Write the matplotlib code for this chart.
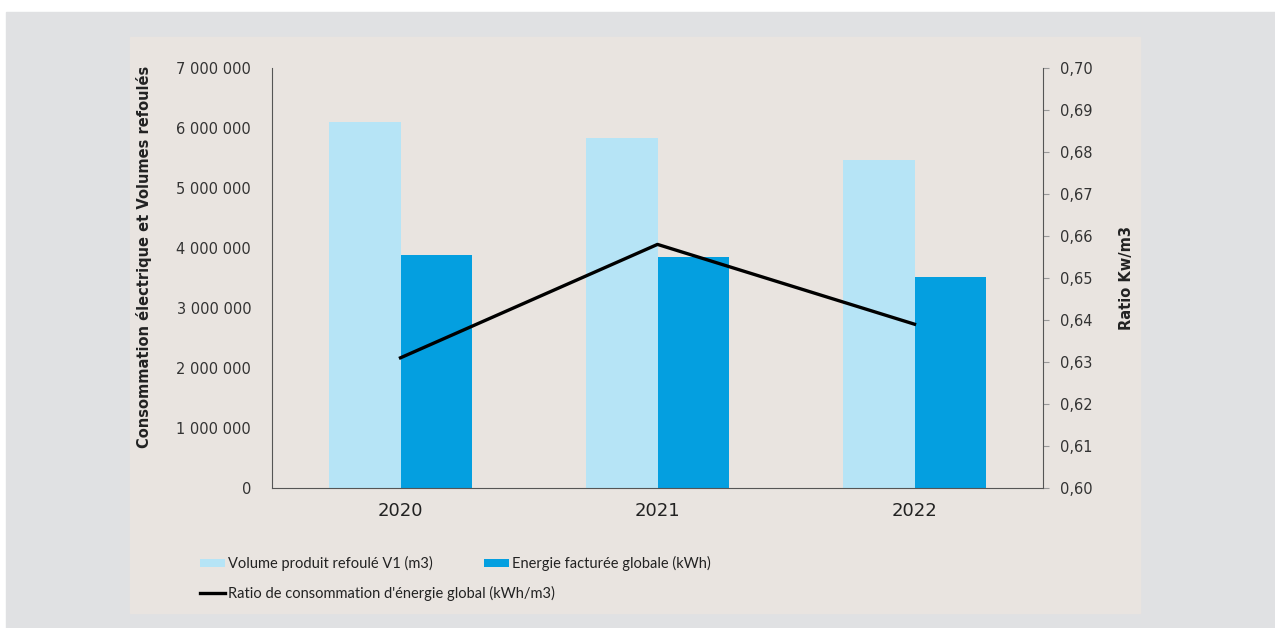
import matplotlib.pyplot as plt
from matplotlib.patches import Rectangle
from matplotlib.ticker import FuncFormatter
import numpy as np

plt.rcParams["font.family"] = ["DejaVu Sans"]

# Données par année
years = ["2020", "2021", "2022"]
volume_refoule = [6100000, 5830000, 5470000]      # m3
energie_facturee = [3880000, 3850000, 3520000]    # kWh
ratio_energie = [0.631, 0.658, 0.639]             # kWh/m3

c_light = "#b6e4f6"
c_dark = "#049fe0"
c_grey = "#e0e1e3"
c_beige = "#e9e4e0"
c_axis = "#555555"

W, H = 1275, 628
fig = plt.figure(figsize=(W / 100, H / 100), dpi=100)
fig.patch.set_facecolor("white")

# fonds
fig.patches.append(Rectangle((6 / W, 0), 1 - 6 / W, 1 - 12 / H,
                             transform=fig.transFigure, color=c_grey, zorder=-2))
fig.patches.append(Rectangle((130 / W, (H - 613) / H), (1140 - 130) / W, (613 - 37) / H,
                             transform=fig.transFigure, color=c_beige, zorder=-1))

ax = fig.add_axes([272 / W, (H - 488) / H, (1043 - 272) / W, (488 - 68) / H])
ax.set_facecolor("none")

x = np.arange(len(years))
bw = 0.28
b1 = ax.bar(x - bw / 2, volume_refoule, width=bw, color=c_light, label="Volume produit refoulé V1 (m3)")
b2 = ax.bar(x + bw / 2, energie_facturee, width=bw, color=c_dark, label="Energie facturée globale (kWh)")

ax.set_xlim(-0.5, 2.5)
ax.set_ylim(0, 7000000)
ax.set_yticks(np.arange(0, 7000001, 1000000))
ax.yaxis.set_major_formatter(FuncFormatter(lambda v, p: f"{int(v):,}".replace(",", " ")))
ax.set_xticks(x)
ax.set_xticklabels(years, fontsize=13, color="#222222")
ax.tick_params(axis="x", length=0, pad=10)
ax.tick_params(axis="y", length=0, pad=15, labelsize=10.5, labelcolor="#333333")
ax.set_ylabel("Consommation électrique et Volumes refoulés", fontsize=10.5, fontweight="bold",
              color="#222222")
ax.yaxis.set_label_coords(-0.156, 0.55)

for s in ["top", "right"]:
    ax.spines[s].set_visible(False)
ax.spines["left"].set_color(c_axis)
ax.spines["bottom"].set_color(c_axis)

# axe secondaire pour le ratio
ax2 = ax.twinx()
ln, = ax2.plot(x, ratio_energie, color="black", lw=2.4,
               label="Ratio de consommation d'énergie global (kWh/m3)")
ax2.set_ylim(0.60, 0.70)
ax2.set_yticks(np.arange(0.60, 0.7001, 0.01))
ax2.yaxis.set_major_formatter(FuncFormatter(lambda v, p: f"{v:.2f}".replace(".", ",")))
ax2.tick_params(axis="y", length=4, width=0.8, color="#999999", pad=8,
                labelsize=10.5, labelcolor="#333333")
ax2.set_ylabel("Ratio Kw/m3", fontsize=10.5, fontweight="bold", color="#222222")
ax2.yaxis.set_label_coords(1.099, 0.5)
for s in ["top", "left", "bottom"]:
    ax2.spines[s].set_visible(False)
ax2.spines["right"].set_color(c_axis)

# légende en deux blocs (colonne gauche / colonne droite)
leg_kw = dict(loc="upper left", frameon=False, borderpad=0, borderaxespad=0,
              prop={"family": "Lato", "size": 10.5},
              handlelength=1.7, handleheight=0.45, handletextpad=0.2, labelspacing=1.0)
leg1 = fig.legend(handles=[b1, ln], bbox_to_anchor=(200 / W, 1 - 556 / H), **leg_kw)
leg2 = fig.legend(handles=[b2], bbox_to_anchor=(484 / W, 1 - 556 / H), **leg_kw)
for lg in (leg1, leg2):
    for t in lg.get_texts():
        t.set_color("#222222")

fig.savefig("out.png", dpi=100)
